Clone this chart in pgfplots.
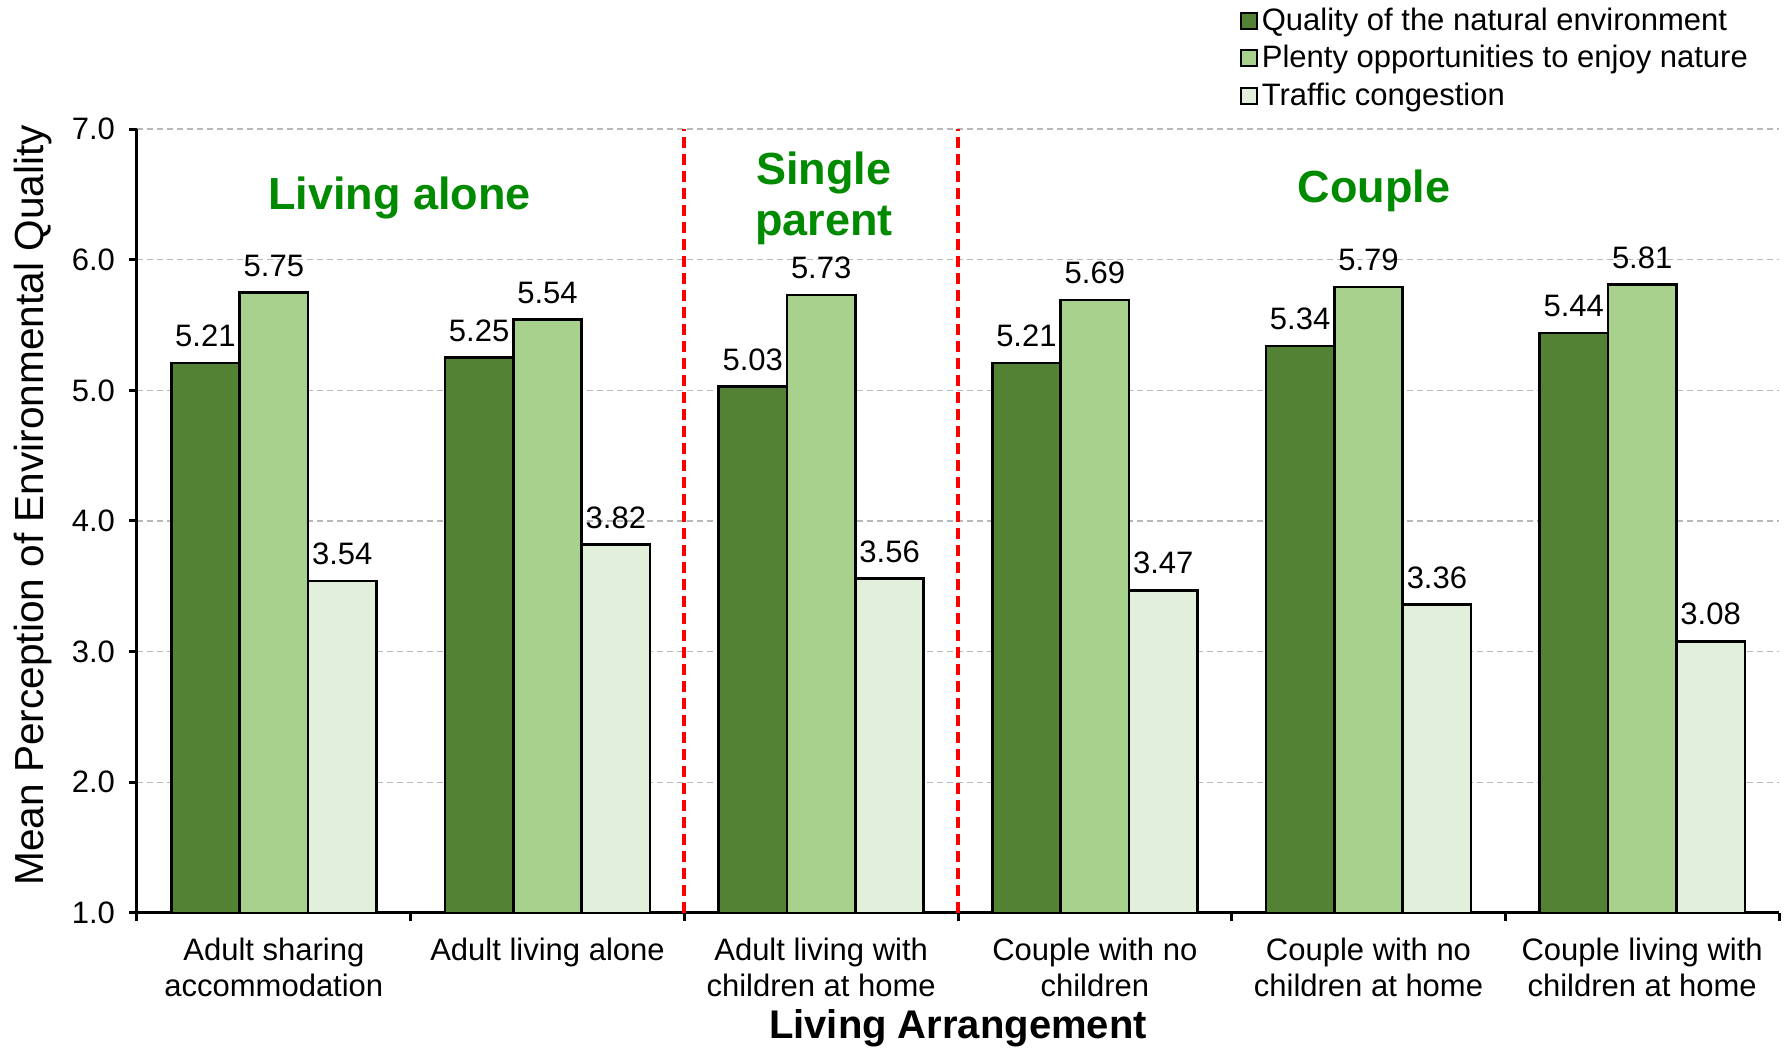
\documentclass[border=0pt]{standalone}
\usepackage{fontspec}
\setmainfont{Liberation Sans}
\usepackage{pgfplots}
\pgfplotsset{compat=1.18}

\definecolor{qdark}{HTML}{548235}
\definecolor{qmid}{HTML}{A9D18E}
\definecolor{qlight}{HTML}{E2EFDA}
\definecolor{grpgreen}{HTML}{008A00}
\definecolor{gridgray}{HTML}{B8B8B8}

\begin{document}
\begin{tikzpicture}
\path[use as bounding box] (-68.5pt,-67.5pt) rectangle (826.5pt,456.5pt);
\begin{axis}[
  at={(0pt,0pt)}, anchor=south west,
  width=821pt, height=392pt, scale only axis,
  ybar=0pt, bar width=0.25,
  xmin=0.5, xmax=6.5, ymin=1, ymax=7,
  axis x line*=bottom, axis y line*=left,
  axis line style={-, black, line width=1.5pt},
  tick align=outside,
  major tick length=4pt, minor tick length=4pt,
  xtick={1,...,6},
  xticklabels={Adult sharing\\accommodation, Adult living alone, Adult living with\\children at home, Couple with no\\children, Couple with no\\children at home, Couple living with\\children at home},
  xticklabel style={align=center, font=\fontsize{15.5}{18}\selectfont, yshift=-5pt},
  major x tick style={draw=none},
  minor xtick={0.5,1.5,...,6.5},
  minor x tick style={black, line width=1.5pt},
  ytick={1,...,7},
  major y tick style={black, line width=1.5pt},
  yticklabel style={font=\fontsize{15.5}{17.5}\selectfont, xshift=-3.5pt, /pgf/number format/fixed, /pgf/number format/fixed zerofill, /pgf/number format/precision=1},
  /pgf/number format/assume math mode=true,
  ymajorgrids=true,
  major grid style={gridgray, line width=0.6pt, dash pattern=on 3pt off 2pt},
  xlabel={Living Arrangement},
  xlabel style={font=\fontsize{20}{24}\selectfont\bfseries, at={(axis description cs:0.5,-0.147)}, anchor=center},
  ylabel={Mean Perception of Environmental Quality},
  ylabel style={font=\fontsize{20.3}{24}\selectfont, at={(axis description cs:-0.0635,0.52)}, anchor=center},
  nodes near coords={\pgfmathprintnumber[fixed,fixed zerofill,precision=2]{\pgfplotspointmeta}},
  nodes near coords style={font=\fontsize{15.5}{17.5}\selectfont, text=black, yshift=4pt},
  legend style={at={(axis description cs:0.668,1.165)}, anchor=north west, draw=none, fill=none,
    font=\fontsize{15.5}{17.5}\selectfont, row sep=2pt, legend cell align=left},
  legend image code/.code={\draw[#1, line width=0.8pt] (0pt,-4pt) rectangle (8pt,4pt);},
  clip=false,
]
\addplot[fill=qdark, draw=black, line width=1.3pt] coordinates {(1,5.21) (2,5.25) (3,5.03) (4,5.21) (5,5.34) (6,5.44)};
\addlegendentry{Quality of the natural environment}
\addplot[fill=qmid, draw=black, line width=1.3pt] coordinates {(1,5.75) (2,5.54) (3,5.73) (4,5.69) (5,5.79) (6,5.81)};
\addlegendentry{Plenty opportunities to enjoy nature}
\addplot[fill=qlight, draw=black, line width=1.3pt] coordinates {(1,3.54) (2,3.82) (3,3.56) (4,3.47) (5,3.36) (6,3.08)};
\addlegendentry{Traffic congestion}

\draw[red, line width=2pt, dash pattern=on 5.5pt off 3pt] (axis cs:2.5,1) -- (axis cs:2.5,7);
\draw[red, line width=2pt, dash pattern=on 5.5pt off 3pt] (axis cs:3.5,1) -- (axis cs:3.5,7);

\node[font=\fontsize{22.5}{25.5}\selectfont\bfseries, text=grpgreen] at (axis cs:1.46,6.47) {Living alone};
\node[font=\fontsize{22.5}{25.5}\selectfont\bfseries, text=grpgreen, align=center] at (axis cs:3.01,6.47) {Single\\parent};
\node[font=\fontsize{22.5}{25.5}\selectfont\bfseries, text=grpgreen] at (axis cs:5.02,6.53) {Couple};
\end{axis}
\end{tikzpicture}
\end{document}
